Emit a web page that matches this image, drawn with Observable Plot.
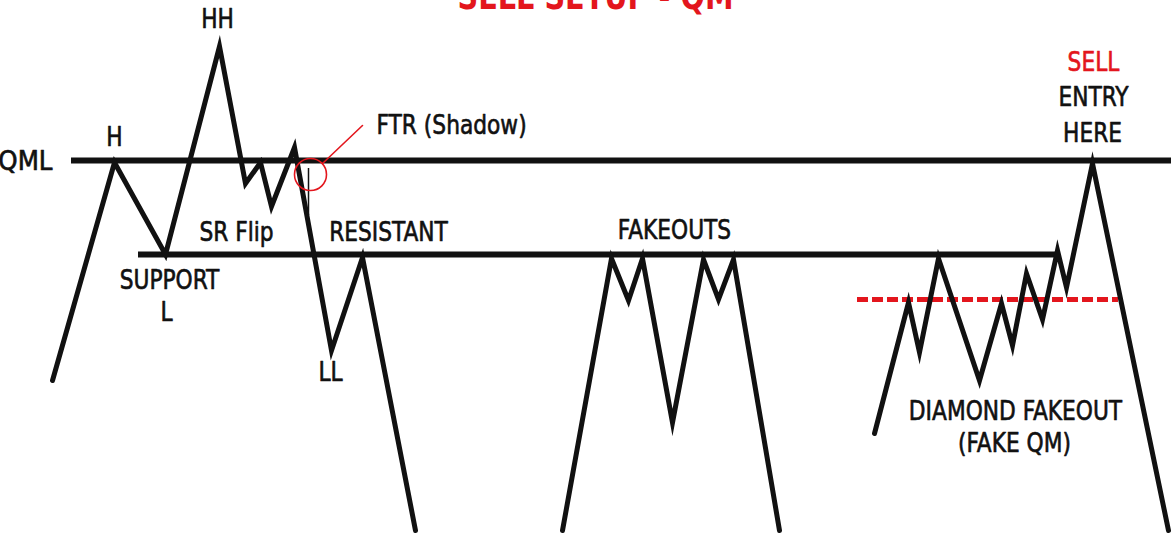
<!DOCTYPE html>
<html>
<head>
<meta charset="utf-8">
<script src="https://cdn.jsdelivr.net/npm/d3@7"></script>
<script src="https://cdn.jsdelivr.net/npm/@observablehq/plot@0.6"></script>
<style>
  html, body { margin: 0; padding: 0; background: #fff; overflow: hidden; }
  #chart svg { display: block; }
</style>
</head>
<body>
<div id="chart"></div>
<script>
// ---- Data (time units on x, price units on y) ----
const structureTime  = [52, 114, 165, 219, 245, 260, 271, 294, 331, 362, 415];
const structurePrice = [153, 371, 279, 487, 350, 371, 327, 386, 183, 276, 3];

const fakeoutTime  = [562, 611, 628, 642, 672, 703, 718, 733, 779];
const fakeoutPrice = [3, 275, 233, 275, 111, 274, 234, 274, 3];

const diamondTime  = [874, 908, 919, 938, 979, 1001, 1012, 1026, 1042, 1057, 1066, 1092, 1168];
const diamondPrice = [100, 231, 181, 275, 153, 230, 188, 260, 214, 283, 246, 370, 3];

const levelNames = ["QML", "Support / Resistance"];
const levelPrice = [373, 279];
const levelFrom  = [71, 138];
const levelTo    = [1171, 1058];

const fakeQmPrice = 234, fakeQmFrom = 857, fakeQmTo = 1118;

const wickTime = 308, wickHigh = 365, wickLow = 318;
const ftrCircle = {time: 310, price: 359};
const ftrLeader = [{time: 322, price: 370}, {time: 362, price: 408}];

const labelText  = ["HH", "H", "SR Flip", "RESISTANT", "SUPPORT", "L", "LL", "FAKEOUTS", "DIAMOND FAKEOUT", "(FAKE QM)", "ENTRY", "HERE"];
const labelTime  = [217, 114, 236, 388, 169, 166, 330, 674, 1015, 1014, 1093, 1092];
const labelPrice = [514, 395.5, 301, 301, 252.5, 221, 161, 302.5, 122, 90, 436, 400];

const title = "SELL SETUP - QM";
const titleTime = 595, titlePrice = 537;
const sellLabel = {text: "SELL", time: 1093, price: 471};
const qmlLabel = {text: "QML", time: 52, price: 371.5};
const ftrLabel = {text: "FTR (Shadow)", time: 376, price: 407.5};

// ---- build tables ----
const toRows = (t, p) => t.map((d, i) => ({time: d, price: p[i]}));
const structure = toRows(structureTime, structurePrice);
const fakeouts = toRows(fakeoutTime, fakeoutPrice);
const diamond = toRows(diamondTime, diamondPrice);
const levels = levelNames.map((n, i) => ({name: n, price: levelPrice[i], from: levelFrom[i], to: levelTo[i]}));
const labels = labelText.map((t, i) => ({text: t, time: labelTime[i], price: labelPrice[i]}));

const FONT = "'Liberation Sans Narrow', 'DejaVu Sans Condensed', 'Roboto Condensed', Roboto, sans-serif";
const INK = "#111";
const RED = "#e3161d";

const lineOpts = {x: "time", y: "price", stroke: INK, strokeWidth: 5, strokeLinejoin: "miter", strokeMiterlimit: 20, curve: "linear"};
const textOpts = {x: "time", y: "price", text: "text", fontSize: 26, lineAnchor: "middle", strokeWidth: 0.6};

const chart = Plot.plot({
  width: 1171,
  height: 533,
  margin: 0,
  x: {domain: [0, 1171], axis: null},
  y: {domain: [0, 533], axis: null},
  style: {background: "#fff", fontFamily: FONT, overflow: "visible"},
  marks: [
    Plot.ruleY(levels, {y: "price", x1: "from", x2: "to", stroke: INK, strokeWidth: 6}),
    Plot.ruleY([fakeQmPrice], {x1: fakeQmFrom, x2: fakeQmTo, stroke: RED, strokeWidth: 5, strokeDasharray: "11,4"}),
    Plot.line(structure, lineOpts),
    Plot.line(fakeouts, lineOpts),
    Plot.line(diamond, lineOpts),
    Plot.ruleX([wickTime], {y1: wickLow, y2: wickHigh, stroke: INK, strokeWidth: 1.5}),
    Plot.dot([ftrCircle], {x: "time", y: "price", r: 16, stroke: RED, fill: "none", strokeWidth: 1.6}),
    Plot.line(ftrLeader, {x: "time", y: "price", stroke: RED, strokeWidth: 1.6}),
    Plot.text(labels, {...textOpts, fill: INK, stroke: INK, textAnchor: "middle"}),
    Plot.text([qmlLabel], {...textOpts, fill: INK, stroke: INK, textAnchor: "end"}),
    Plot.text([ftrLabel], {...textOpts, fill: INK, stroke: INK, textAnchor: "start"}),
    Plot.text([sellLabel], {...textOpts, fill: RED, stroke: RED, textAnchor: "middle"}),
    Plot.text([title], {x: titleTime, y: titlePrice, text: d => d, fill: RED, fontSize: 38, fontWeight: "bold", lineAnchor: "middle", textAnchor: "middle"})
  ]
});

// horizontally condense the lettering to match the narrow display face
d3.select(chart).selectAll("text").each(function() {
  const el = d3.select(this);
  const s = this.textContent === title ? 0.84 : (this.textContent === "QML" ? 1.05 : 0.93);
  const t = el.attr("transform");
  if (t) el.attr("transform", t + ` scale(${s},1)`);
  else {
    const x = +el.attr("x") || 0, y = +el.attr("y") || 0;
    el.attr("transform", `translate(${x},${y}) scale(${s},1) translate(${-x},${-y})`);
  }
});
document.getElementById("chart").appendChild(chart);
</script>
</body>
</html>
